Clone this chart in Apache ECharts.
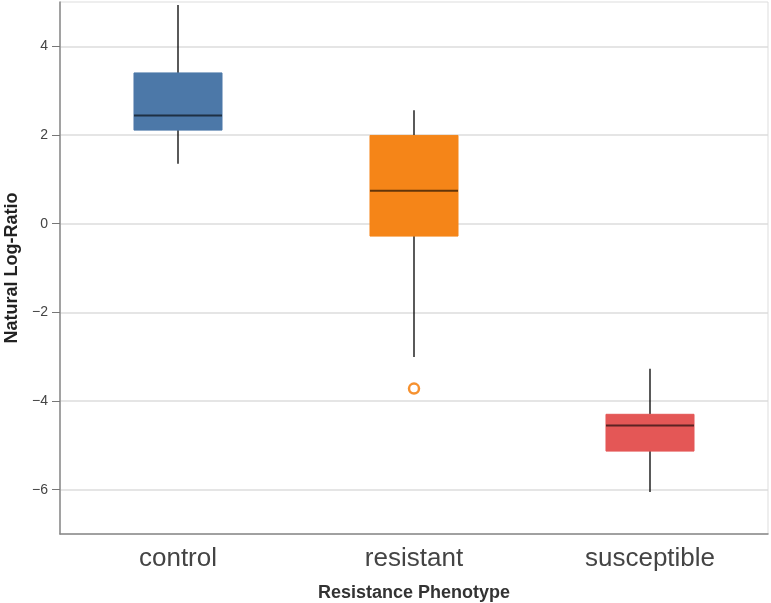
<!DOCTYPE html>
<html>
<head>
<meta charset="utf-8">
<script src="https://cdn.jsdelivr.net/npm/echarts@6/dist/echarts.min.js"></script>
<style>
  html, body { margin: 0; padding: 0; background: #fff; }
  #chart { width: 771px; height: 603px; }
</style>
</head>
<body>
<div id="chart"></div>
<script>
// phenotype groups
var categories = ['control', 'resistant', 'susceptible'];
var colors = ['#4c78a8', '#f58518', '#e45756'];
// box stats: [min, q1, median, q3, max]
var boxStats = [
  [1.35, 2.11, 2.44, 3.40, 4.93],
  [-3.01, -0.28, 0.74, 1.99, 2.56],
  [-6.05, -5.13, -4.55, -4.30, -3.27]
];
// outliers: [category index, value]
var outliers = [[1, -3.72]];
var yTicks = [-6, -4, -2, 0, 2, 4];

var boxData = boxStats.map(function (s, i) {
  return [i].concat(s);
});

var myChart = echarts.init(document.getElementById('chart'));

var option = {
  animation: false,
  grid: {
    left: 60,
    right: 3,
    top: 2,
    bottom: 69,
    containLabel: false,
    outerBoundsMode: 'none',
    show: true,
    borderColor: '#ddd',
    borderWidth: 1
  },
  xAxis: {
    type: 'category',
    data: categories,
    name: 'Resistance Phenotype',
    nameLocation: 'middle',
    nameGap: 50,
    nameTextStyle: { fontFamily: 'Liberation Sans', fontWeight: 'bold', fontSize: 18, color: '#333' },
    axisLine: { onZero: false, lineStyle: { color: '#888', width: 1.5 } },
    axisTick: { alignWithLabel: true, length: 8, lineStyle: { color: '#888' } },
    axisLabel: { fontFamily: 'Liberation Sans', fontSize: 26, color: '#444', margin: 12 },
    splitLine: { show: false }
  },
  yAxis: {
    type: 'value',
    min: -7,
    max: 5,
    splitNumber: 6,
    name: 'Natural Log-Ratio',
    nameLocation: 'middle',
    nameGap: 38,
    nameTextStyle: { fontFamily: 'Liberation Sans', fontWeight: 'bold', fontSize: 18, color: '#222' },
    axisLine: { show: true, lineStyle: { color: '#888', width: 1.5 } },
    axisTick: { show: true, length: 8, customValues: yTicks, lineStyle: { color: '#777', width: 1 } },
    axisLabel: {
      fontFamily: 'Liberation Sans', fontSize: 14, color: '#444', margin: 12,
      customValues: yTicks,
      formatter: function (v) {
        return v < 0 ? '\u2212' + Math.abs(v) : String(v);
      }
    },
    splitLine: { lineStyle: { color: '#ddd', width: 1.5 } }
  },
  series: [
    {
      type: 'custom',
      data: boxData,
      encode: { x: 0, y: [1, 2, 3, 4, 5] },
      renderItem: function (params, api) {
        var x = api.value(0);
        var lo = api.coord([x, api.value(1)]);
        var q1 = api.coord([x, api.value(2)]);
        var med = api.coord([x, api.value(3)]);
        var q3 = api.coord([x, api.value(4)]);
        var hi = api.coord([x, api.value(5)]);
        var bw = api.size([1, 0])[0] * 0.373;
        var c = colors[params.dataIndex];
        var whisker = { stroke: 'rgba(0,0,0,0.72)', lineWidth: 1.8 };
        return {
          type: 'group',
          children: [
            {
              type: 'line',
              shape: { x1: hi[0], y1: hi[1], x2: q3[0], y2: q3[1] },
              style: whisker
            },
            {
              type: 'line',
              shape: { x1: q1[0], y1: q1[1], x2: lo[0], y2: lo[1] },
              style: whisker
            },
            {
              type: 'rect',
              shape: { x: q3[0] - bw / 2, y: q3[1], width: bw, height: q1[1] - q3[1] },
              style: { fill: c, stroke: c, lineWidth: 1 }
            },
            {
              type: 'line',
              shape: { x1: med[0] - bw / 2, y1: med[1], x2: med[0] + bw / 2, y2: med[1] },
              style: { stroke: 'rgba(0,0,0,0.6)', lineWidth: 2 }
            }
          ]
        };
      }
    },
    {
      type: 'scatter',
      data: outliers,
      symbol: 'circle',
      symbolSize: 10,
      itemStyle: { color: '#fff', borderColor: '#f58518', borderWidth: 2.5, opacity: 0.9 }
    }
  ]
};

myChart.setOption(option);
</script>
</body>
</html>
